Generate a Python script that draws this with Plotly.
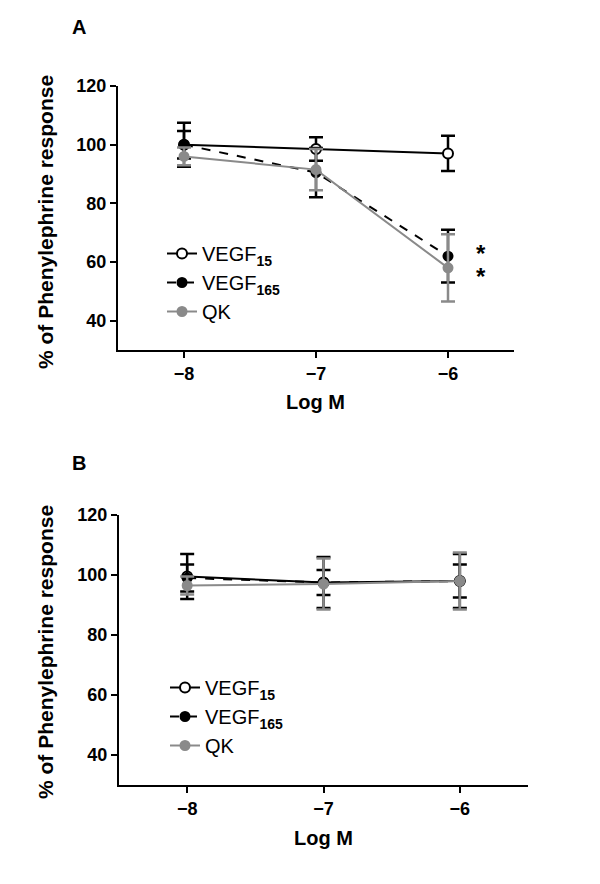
import plotly.graph_objects as go

# log molar concentration
log_m = [-8, -7, -6]

# panel A: % of phenylephrine response, mean and error
vegf15_a = [100, 98.5, 97]
vegf15_a_err = [7.5, 4, 6]
vegf165_a = [100, 90.5, 62]
vegf165_a_err = [4.7, 8.4, 9]
qk_a = [96, 91.5, 58]
qk_a_err = [3, 7, 11.5]

# panel B
vegf15_b = [99.5, 97.5, 98]
vegf15_b_err = [7.5, 8.5, 9]
vegf165_b = [99, 97.5, 98]
vegf165_b_err = [4.5, 4.2, 5.5]
qk_b = [96.5, 97, 98]
qk_b_err = [3, 8.5, 9.5]

# significance stars (panel A, at -6)
star_x = [-5.75, -5.75]
star_y = [63, 55]

names = ["VEGF<sub><b>15</b></sub>", "VEGF<sub><b>165</b></sub>", "QK"]
FONT = "Liberation Sans, Arial, sans-serif"
GREY = "#8a8a8a"

W, H = 600, 884
# page body adds an offset, so place things relative to it
OX, OY = 8, 8


def px(x):
    return (x - OX) / W


def py(y):
    return 1 - (y - OY) / H


fig = go.Figure()


def add_series(y, err, name, color, dash, fill, xa, ya, legend):
    fig.add_trace(go.Scatter(
        x=log_m, y=y, name=name, mode="lines+markers",
        xaxis=xa, yaxis=ya, legend=legend,
        line=dict(color=color, width=2, dash=dash),
        marker=dict(size=10 if fill == "white" else 9, color=fill,
                    line=dict(color=color, width=2)),
        error_y=dict(type="data", array=err, color=color, thickness=2.5, width=7),
    ))


add_series(vegf15_a, vegf15_a_err, names[0], "black", "solid", "white", "x", "y", "legend")
add_series(vegf165_a, vegf165_a_err, names[1], "black", "dash", "black", "x", "y", "legend")
add_series(qk_a, qk_a_err, names[2], GREY, "solid", GREY, "x", "y", "legend")

add_series(vegf15_b, vegf15_b_err, names[0], "black", "solid", "white", "x2", "y2", "legend2")
add_series(vegf165_b, vegf165_b_err, names[1], "black", "dash", "black", "x2", "y2", "legend2")
add_series(qk_b, qk_b_err, names[2], GREY, "solid", GREY, "x2", "y2", "legend2")

axis_common = dict(
    showline=True, linecolor="black", linewidth=2, showgrid=False, zeroline=False,
    ticks="outside", ticklen=6, tickwidth=2, tickcolor="black",
    tickfont=dict(family=FONT, size=18, color="black", weight="bold"),
)
xaxis_common = dict(axis_common, range=[-8.5, -5.5], tickvals=[-8, -7, -6])
yaxis_common = dict(axis_common, range=[30, 120], tickvals=[40, 60, 80, 100, 120])

legend_common = dict(
    xanchor="left", yanchor="top", bgcolor="rgba(0,0,0,0)",
    font=dict(family=FONT, size=20, color="black"),
    itemwidth=30, tracegroupgap=0,
)

fig.update_layout(
    width=W, height=H,
    margin=dict(l=0, r=0, t=0, b=0, autoexpand=False),
    paper_bgcolor="white", plot_bgcolor="white",
    xaxis=dict(xaxis_common, domain=[px(118), px(514)], anchor="y"),
    yaxis=dict(yaxis_common, domain=[py(350), py(86)], anchor="x"),
    xaxis2=dict(xaxis_common, domain=[px(119), px(528)], anchor="y2"),
    yaxis2=dict(yaxis_common, domain=[py(785), py(515)], anchor="x2"),
    legend=dict(legend_common, x=px(162), y=py(234)),
    legend2=dict(legend_common, x=px(165), y=py(668)),
)

bold = dict(family=FONT, color="black", weight="bold")
ann = [
    dict(text="A", x=px(79), y=py(27), font=dict(bold, size=20)),
    dict(text="B", x=px(79), y=py(463), font=dict(bold, size=20)),
    dict(text="Log M", x=px(315), y=py(402), font=dict(bold, size=20)),
    dict(text="Log M", x=px(323), y=py(838), font=dict(bold, size=20)),
    dict(text="% of Phenylephrine response", x=px(45), y=py(222),
         textangle=-90, font=dict(bold, size=21)),
    dict(text="% of Phenylephrine response", x=px(45), y=py(652),
         textangle=-90, font=dict(bold, size=21)),
]
for a in ann:
    fig.add_annotation(a, xref="paper", yref="paper", showarrow=False,
                       xanchor="center", yanchor="middle")

for sx, sy in zip(star_x, star_y):
    fig.add_annotation(text="*", x=sx, y=sy, xref="x", yref="y", showarrow=False,
                       font=dict(bold, size=24))

fig.write_html("out.html")
